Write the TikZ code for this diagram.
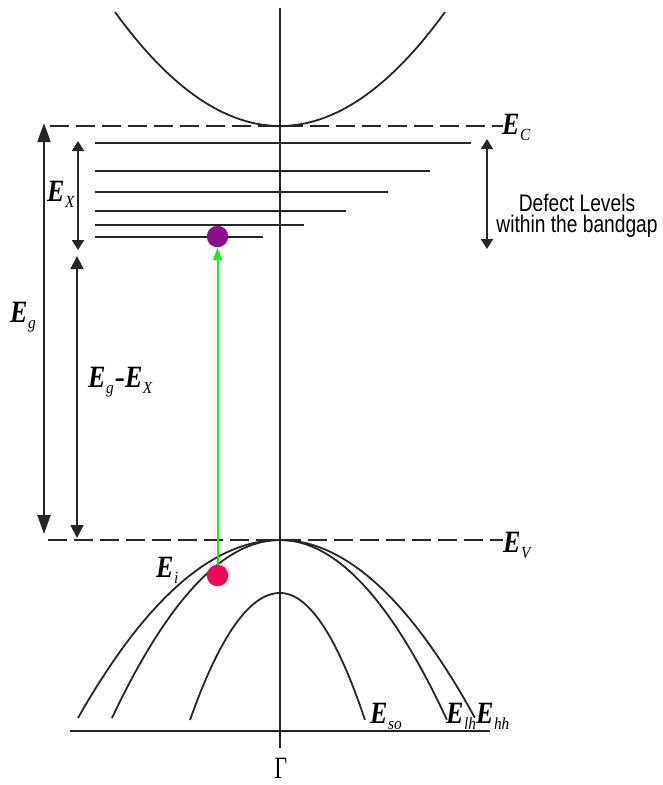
\documentclass[tikz,border=0pt]{standalone}
\usepackage{fontspec}
\setmainfont{Liberation Serif}
\newfontfamily\sansf{Liberation Sans}
\usetikzlibrary{arrows.meta}
\definecolor{ink}{HTML}{262626}
\definecolor{exciton}{HTML}{8E0C8E}
\definecolor{holec}{HTML}{F2065C}
\definecolor{pump}{HTML}{1EE81E}
\newcommand\EL[1]{\scalebox{0.84}[1]{\fontsize{31}{33}\selectfont\bfseries\itshape E}\kern0.5pt\raisebox{-6pt}{\scalebox{0.9}[1]{\fontsize{17}{17}\selectfont\itshape #1}}}
\tikzset{
  band/.style={ink, line width=1.8pt},
  level/.style={ink, line width=2pt},
  dashlvl/.style={ink, line width=2pt, dash pattern=on 19pt off 7pt},
  gaparrow/.style={ink, line width=1.8pt, {Triangle[width=13pt,length=19pt]}-{Triangle[width=13pt,length=19pt]}},
  midarrow/.style={ink, line width=1.8pt, {Triangle[width=13pt,length=13pt]}-{Triangle[width=13pt,length=13pt]}},
  smallarrow/.style={ink, line width=1.8pt, {Triangle[width=12pt,length=10pt]}-{Triangle[width=12pt,length=10pt]}},
  lbl/.style={inner sep=0pt, anchor=base west},
  dot/.style={circle, inner sep=0pt, minimum size=21.5pt},
  deftext/.style={inner sep=0pt, anchor=center, align=center, font=\sansf\fontsize{24}{21}\selectfont},
}
\begin{document}
\begin{tikzpicture}[x=1pt,y=-1pt]
\useasboundingbox (0,0) rectangle (662,785);

% vertical axis
\coordinate (axT) at (280,8);
\coordinate (axB) at (280,748);
\draw[band] (axT) -- (axB);

% conduction band
\draw[band] plot[domain=-1:1, samples=80] ({280+165*\x},{126-114*\x*\x});

% band edges
\coordinate (ecL) at (50,126);
\coordinate (ecR) at (503,126);
\draw[dashlvl] (ecL) -- (ecR);
\coordinate (evL) at (48,540);
\coordinate (evR) at (503,540);
\draw[dashlvl] (evL) -- (evR);

% defect levels
\foreach \yy/\xe [count=\i] in {143/471, 171/430, 192/388, 211/346, 225/304, 237/263}{
  \coordinate (dl\i a) at (95,\yy);
  \coordinate (dl\i b) at (\xe,\yy);
  \draw[level] (dl\i a) -- (dl\i b);
}

% valence bands (heavy hole, light hole, split-off)
\draw[band] plot[domain=-1:0, samples=60] ({280+202*\x},{540+178*\x*\x});
\draw[band] plot[domain=0:1, samples=60] ({280+195*\x},{540+178*\x*\x});
\draw[band] plot[domain=-1:0, samples=60] ({280+168*\x},{540+178*\x*\x});
\draw[band] plot[domain=0:1, samples=60] ({280+167*\x},{540+180*\x*\x});
\draw[band] plot[domain=-1:0, samples=60] ({280+90*\x},{593+127*\x*\x});
\draw[band] plot[domain=0:1, samples=60] ({280+85*\x},{593+127*\x*\x});

% k axis
\coordinate (kL) at (70,731);
\coordinate (kR) at (490,731);
\draw[band] (kL) -- (kR);

% energy arrows
\coordinate (egT) at (44,123);
\coordinate (egB) at (44,534);
\draw[gaparrow] (egT) -- (egB);
\coordinate (exT) at (78,141);
\coordinate (exB) at (78,250);
\draw[smallarrow] (exT) -- (exB);
\coordinate (gxT) at (77,256);
\coordinate (gxB) at (77,538);
\draw[midarrow] (gxT) -- (gxB);
\coordinate (dfT) at (487,139);
\coordinate (dfB) at (487,249);
\draw[smallarrow] (dfT) -- (dfB);

% carriers and transition
\node[dot, fill=exciton] (ex) at (217.5,236.5) {};
\node[dot, fill=holec] (hole) at (217.5,575.5) {};
\draw[pump, line width=2pt, -{Triangle[width=9pt,length=13pt]}] (hole.north) -- (ex.south);

% labels
\node[lbl] (lEC) at (502,134) {\EL{C}};
\node[lbl] (lEV) at (503,552) {\EL{V}};
\node[lbl] (lEg) at (10,322) {\EL{g}};
\node[lbl] (lEX) at (47,201) {\EL{X}};
\node[lbl] (lEgX) at (88,387) {\EL{g}\kern1pt{\fontsize{31}{33}\selectfont\bfseries -}\EL{X}};
\node[lbl] (lEi) at (156,577) {\EL{i}};
\node[lbl] (lEso) at (370,723) {\EL{so}};
\node[lbl] (lElh) at (446,723) {\EL{lh}};
\node[lbl] (lEhh) at (476,723) {\EL{hh}};
\node[inner sep=0pt, anchor=base] (gam) at (281,778) {\scalebox{0.7}[1]{\fontsize{31}{31}\selectfont Γ}};
\node[deftext] (df) at (577,216) {\scalebox{0.8}[1]{Defect Levels}\\\scalebox{0.8}[1]{within the bandgap}};
\end{tikzpicture}
\end{document}
